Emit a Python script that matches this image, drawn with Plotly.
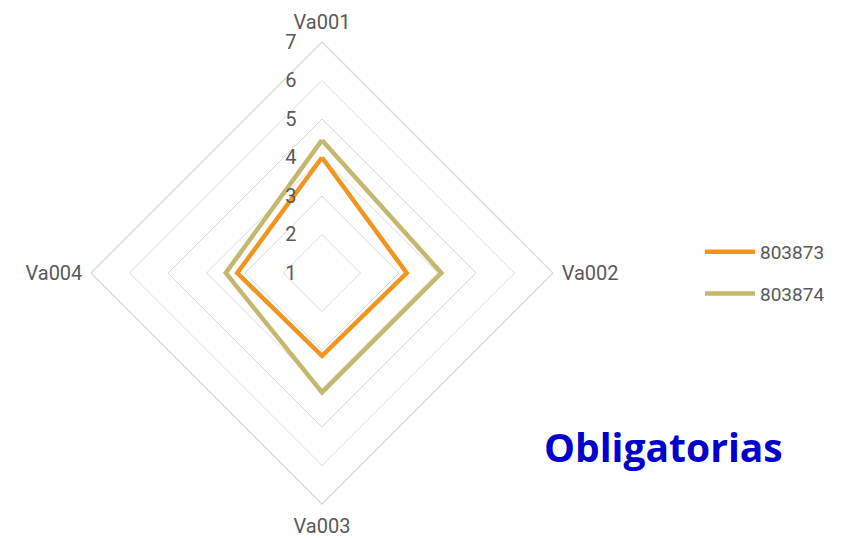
import plotly.graph_objects as go

categories = ["Va001", "Va002", "Va003", "Va004"]
series_names = ["803873", "803874"]
values_803873 = [4.0, 3.2, 3.15, 3.2]
values_803874 = [4.45, 4.1, 4.1, 3.5]
tick_vals = [1, 2, 3, 4, 5, 6, 7]
tick_text = ["1", "2", "3", "4", "5", "6", "7"]
title_text = "Obligatorias"

colors = ["#F0961E", "#C4B76E"]
all_values = [values_803873, values_803874]

fig = go.Figure()
for i, (name, vals) in enumerate(zip(series_names, all_values)):
    fig.add_trace(go.Scatterpolar(
        r=vals + [vals[0]],
        theta=categories + [categories[0]],
        mode="lines",
        name=name,
        legendgroup=name,
        line=dict(color=colors[i], width=4.5),
    ))

W, H = 841, 538
cx, cy, R = 314, 265, 231
fig.update_layout(
    width=W, height=H,
    margin=dict(l=0, r=0, t=0, b=0, autoexpand=False),
    paper_bgcolor="white",
    plot_bgcolor="white",
    font=dict(family="Roboto, Open Sans, sans-serif", color="#595959", size=20),
    polar=dict(
        domain=dict(x=[(cx - R) / W, (cx + R) / W], y=[(H - cy - R) / H, (H - cy + R) / H]),
        gridshape="linear",
        bgcolor="white",
        radialaxis=dict(
            range=[1, 7],
            tickvals=tick_vals,
            ticktext=tick_text,
            angle=90,
            side="counterclockwise",
            tickangle=90,
            showline=False,
            gridcolor="#D9D9D9",
            gridwidth=1.3,
            ticks="outside",
            ticklen=18,
            tickcolor="rgba(0,0,0,0)",
            tickfont=dict(size=20, color="#595959"),
        ),
        angularaxis=dict(
            rotation=90,
            direction="clockwise",
            showgrid=False,
            showline=True,
            linecolor="#D9D9D9",
            linewidth=1.3,
            ticks="outside",
            ticklen=4,
            tickcolor="rgba(0,0,0,0)",
            tickfont=dict(size=20, color="#595959"),
        ),
    ),
    legend=dict(
        x=692 / W, y=(H - 265) / H, xanchor="left", yanchor="middle",
        font=dict(size=19, color="#595959"),
        tracegroupgap=14,
        traceorder="grouped",
        itemwidth=50,
        bgcolor="rgba(0,0,0,0)",
    ),
    showlegend=True,
    annotations=[dict(
        text="<b>" + title_text + "</b>",
        x=655 / W, y=(H - 438) / H, xref="paper", yref="paper",
        xanchor="center", yanchor="middle", showarrow=False,
        font=dict(family="Open Sans, sans-serif", size=39, color="#0000CC"),
    )],
)

fig.write_html("out.html")
